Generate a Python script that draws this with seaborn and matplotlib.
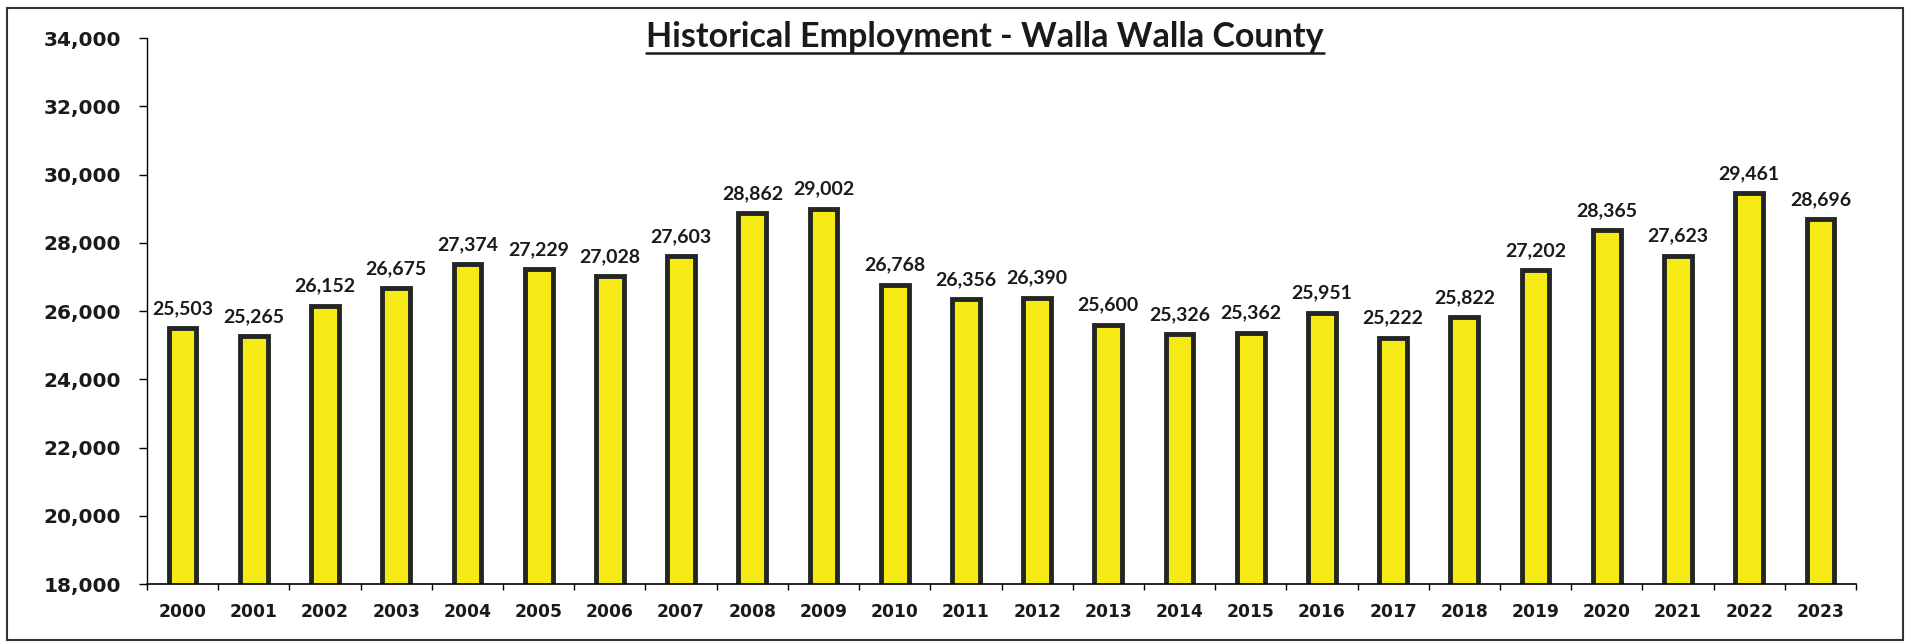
import numpy as np
import pandas as pd
import matplotlib
matplotlib.use("Agg")
import matplotlib.pyplot as plt
import seaborn as sns
from matplotlib.lines import Line2D
from matplotlib.patches import Rectangle
from matplotlib.ticker import FuncFormatter, FixedLocator

years = [str(y) for y in range(2000, 2024)]
employment = [25503, 25265, 26152, 26675, 27374, 27229, 27028, 27603, 28862, 29002,
              26768, 26356, 26390, 25600, 25326, 25362, 25951, 25222, 25822, 27202,
              28365, 27623, 29461, 28696]
y_ticks = list(range(18000, 34001, 2000))

df = pd.DataFrame({'Year': years, 'Employment': employment})

sns.set_style('white')
plt.rcParams['font.family'] = ['DejaVu Sans']

fig = plt.figure(figsize=(19.14, 6.42), dpi=100)
fig.patch.set_facecolor('white')
ax = fig.add_axes([0.0768, 0.0903, 0.8929, 0.8505])

sns.barplot(data=df, x='Year', y='Employment', color='#F5EA16', saturation=1,
            edgecolor='#232622', linewidth=3.5, width=0.39, ax=ax)

ax.set_ylim(18000, 34000)
ax.set_xlim(-0.5, len(years) - 0.5)
ax.set_xlabel('')
ax.set_ylabel('')

ax.yaxis.set_major_locator(FixedLocator(y_ticks))
ax.yaxis.set_major_formatter(FuncFormatter(lambda v, p: f'{int(v):,}'))
ax.tick_params(axis='y', direction='out', length=5.8, width=1, color='black',
               pad=13, labelsize=14.5, left=True)
for lab in ax.get_yticklabels():
    lab.set_fontweight('bold')
    lab.set_color('#1a1a1a')

ax.set_xticks(np.arange(len(years)))
ax.set_xticklabels(years, fontsize=12.3, fontweight='bold', color='#1a1a1a')
ax.xaxis.set_minor_locator(FixedLocator(np.arange(-0.5, len(years), 1.0)))
ax.tick_params(axis='x', which='major', length=0, pad=14)
ax.tick_params(axis='x', which='minor', direction='out', length=4.3, width=1,
               color='black', bottom=True)

for side in ['top', 'right']:
    ax.spines[side].set_visible(False)
ax.spines['left'].set_color('black')
ax.spines['left'].set_linewidth(1)
ax.spines['bottom'].set_color('black')
ax.spines['bottom'].set_linewidth(1.2)

ax.bar_label(ax.containers[0], labels=[f'{v:,}' for v in employment], padding=8,
             fontsize=14, fontweight='bold', family=['Lato', 'DejaVu Sans'],
             color='#1a1a1a')

title = fig.text(0.5147, 0.9266, 'Historical Employment - Walla Walla County',
                 ha='center', va='baseline', fontsize=24.5, fontweight='bold',
                 family=['Lato', 'DejaVu Sans'], color='#1a1a1a')

# underline the title
fig.canvas.draw()
bb = title.get_window_extent(renderer=fig.canvas.get_renderer())
W, H = fig.get_size_inches() * fig.dpi
uy = 1 - 53 / 642
fig.add_artist(Line2D([bb.x0 / W, bb.x1 / W], [uy, uy], color='#1a1a1a', lw=1.8))

# outer border
fig.add_artist(Rectangle((0.0037, 0.003), 0.9906, 0.9845, fill=False,
                         edgecolor='#333333', lw=1.5, transform=fig.transFigure))

fig.savefig('out.png', dpi=100)
